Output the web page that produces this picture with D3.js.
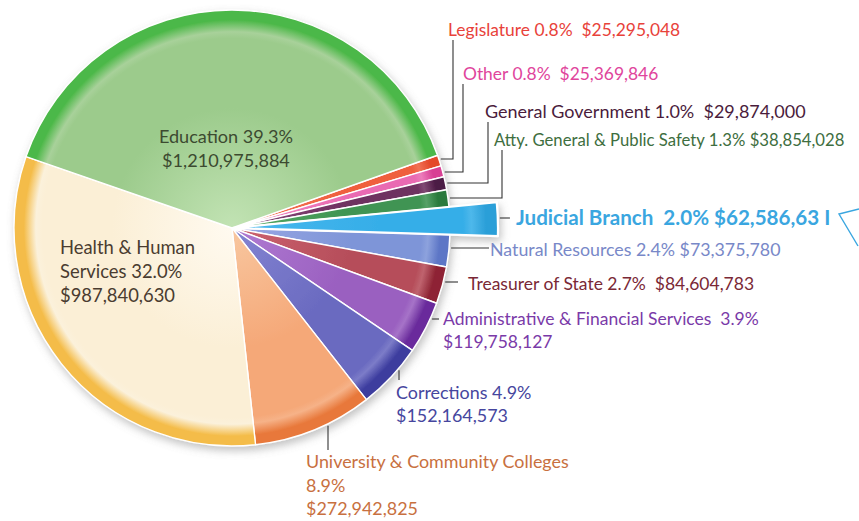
<!DOCTYPE html>
<html>
<head>
<meta charset="utf-8">
<script src="https://cdn.jsdelivr.net/npm/d3@7"></script>
<style>
  html, body { margin: 0; padding: 0; background: #ffffff; }
  svg { display: block; }
  text { font-family: Lato, "Open Sans", sans-serif; }
</style>
</head>
<body>
<svg id="chart" width="859" height="521"></svg>
<script>
// ---------- data ----------
const categories = [
  "Legislature", "Other", "General Government", "Atty. General & Public Safety",
  "Judicial Branch", "Natural Resources", "Treasurer of State",
  "Administrative & Financial Services", "Corrections",
  "University & Community Colleges", "Health & Human Services", "Education"
];
const percents = ["0.8%", "0.8%", "1.0%", "1.3%", "2.0%", "2.4%", "2.7%", "3.9%", "4.9%", "8.9%", "32.0%", "39.3%"];
const amounts = [25295048, 25369846, 29874000, 38854028, 62586631, 73375780, 84604783,
                 119758127, 152164573, 272942825, 987840630, 1210975884];
const amountLabels = ["$25,295,048", "$25,369,846", "$29,874,000", "$38,854,028", "$62,586,63 I",
                      "$73,375,780", "$84,604,783", "$119,758,127", "$152,164,573",
                      "$272,942,825", "$987,840,630", "$1,210,975,884"];

// ---------- styles ----------
const sliceColors = [ // [inner, mid, rim]
  ["#f47a5a", "#ef5f3e", "#e4482a"],
  ["#f08cc4", "#e96ab2", "#d83f94"],
  ["#8a4a7c", "#6e3060", "#4c1a44"],
  ["#55a865", "#3f9452", "#2a7a3c"],
  ["#49b8ee", "#36aee8", "#2b9fd8"],
  ["#9aa8e4", "#7e95d8", "#5d76c6"],
  ["#cc6270", "#b64e5a", "#8e2434"],
  ["#b07ad2", "#9a60c0", "#6a2c9c"],
  ["#8484d2", "#6a6ac0", "#3c3c9e"],
  ["#f8c7a0", "#f5a878", "#e8783a"],
  ["#fffaf0", "#fbefd6", "#f4bc48"],
  ["#c2e3b4", "#9ccb8c", "#4cb848"]
];
const labelColors = ["#e8423a", "#e0459c", "#4a1c3c", "#3e6e40", "#3aa6e0", "#7888c8",
                     "#7a2836", "#7a3aa8", "#46469e", "#c87040", "#4a3c30", "#3c4a30"];

const cx = 232, cy = 228, R = 218, Rjud = 266;
const startDeg = 70.5;

const svg = d3.select("#chart");
const defs = svg.append("defs");

const shadow = defs.append("filter").attr("id", "shadow")
  .attr("x", "-20%").attr("y", "-20%").attr("width", "140%").attr("height", "140%");
shadow.append("feDropShadow").attr("dx", 2).attr("dy", 4).attr("stdDeviation", 4)
  .attr("flood-color", "#777").attr("flood-opacity", 0.45);

const pie = d3.pie().sort(null).value(d => d)
  .startAngle(startDeg * Math.PI / 180)
  .endAngle(startDeg * Math.PI / 180 + 2 * Math.PI);
const arcsData = pie(amounts);

arcsData.forEach((d, i) => {
  const rr = i === 4 ? Rjud : R;
  const g = defs.append("radialGradient").attr("id", "grad" + i)
    .attr("gradientUnits", "userSpaceOnUse")
    .attr("cx", 0).attr("cy", 0).attr("r", rr);
  const c = sliceColors[i];
  g.append("stop").attr("offset", "0%").attr("stop-color", c[0]);
  g.append("stop").attr("offset", "55%").attr("stop-color", c[1]);
  g.append("stop").attr("offset", "87%").attr("stop-color", c[1]);
  g.append("stop").attr("offset", "90%").attr("stop-color", d3.interpolateRgb(c[1], "#ffffff")(0.12));
  g.append("stop").attr("offset", "95.5%").attr("stop-color", c[2]);
  g.append("stop").attr("offset", "100%").attr("stop-color", c[2]);
});

const arcGen = d3.arc().innerRadius(0);
const pieG = svg.append("g").attr("transform", `translate(${cx},${cy})`).attr("filter", "url(#shadow)");

const order = d3.range(arcsData.length).filter(i => i !== 4).concat([4]);
order.forEach(i => {
  const d = arcsData[i];
  pieG.append("path")
    .attr("d", arcGen.outerRadius(i === 4 ? Rjud : R)(d))
    .attr("fill", `url(#grad${i})`)
    .attr("stroke", "#ffffff")
    .attr("stroke-width", i === 4 ? 2.2 : 1.4)
    .attr("stroke-linejoin", "round");
});

// ---------- labels ----------
const lineColor = "#333";
function edgeXAtY(y) { return cx + Math.sqrt(R * R - (y - cy) * (y - cy)); }
function edgeYAtX(x) { return cy + Math.sqrt(R * R - (x - cx) * (x - cx)); }
function line(pts) {
  svg.append("path").attr("d", d3.line()(pts)).attr("fill", "none")
    .attr("stroke", lineColor).attr("stroke-width", 1.1);
}
function label(i, x, y, lines, opts = {}) {
  const t = svg.append("text").attr("x", x).attr("y", y)
    .attr("fill", labelColors[i])
    .attr("font-size", opts.size || 17.6)
    .attr("font-weight", opts.weight || 400)
    .attr("text-anchor", opts.anchor || "start")
    .attr("xml:space", "preserve");
  lines.forEach((s, k) => {
    t.append("tspan").attr("x", x).attr("dy", k === 0 ? 0 : (opts.lh || 23)).text(s);
  });
}

// Elbow leaders (top-right small slices)
const elbows = [ // [slice index, horizontal y, vertical x, top y, label x, label y, size, sep]
  [0, 159, 453, 40, 448, 36, 17.4, "  "],
  [1, 172, 463, 84, 463, 80, 17.4, "  "],
  [2, 183, 488, 122, 485, 118, 18, "  "],
  [3, 198, 502, 150, 494, 146, 16.7, " "]
];
elbows.forEach(([i, hy, vx, ty, lx, ly, sz, sep]) => {
  line([[edgeXAtY(hy) + 2, hy], [vx, hy], [vx, ty]]);
  label(i, lx, ly, [`${categories[i]} ${percents[i]}${sep}${amountLabels[i]}`], { size: sz });
});

// Judicial (exploded)
const jy = 218;
line([[cx + Math.sqrt(Rjud * Rjud - (jy - cy) * (jy - cy)) + 2, jy], [510, jy]]);
label(4, 516, 225, [`${categories[4]}  ${percents[4]} ${amountLabels[4]}`], { size: 20.6, weight: 700 });
svg.append("path").attr("d", d3.line()([[859, 209], [839, 214], [858, 246]]))
  .attr("fill", "none").attr("stroke", "#3aa6e0").attr("stroke-width", 1.4);

// Natural Resources
line([[edgeXAtY(248) + 2, 248], [489, 248]]);
label(5, 490, 256, [`${categories[5]} ${percents[5]} ${amountLabels[5]}`], { size: 17.8 });

// Treasurer
line([[edgeXAtY(282) + 2, 282], [458, 282]]);
label(6, 468, 290, [`${categories[6]} ${percents[6]}  ${amountLabels[6]}`], { size: 17.5 });

// Administrative
line([[edgeXAtY(319) + 2, 319], [439, 319]]);
label(7, 443, 325, [`${categories[7]}  ${percents[7]}`, amountLabels[7]], { size: 17.5 });

// Corrections
line([[399, edgeYAtX(399) + 2], [399, 380]]);
label(8, 396, 399, [`${categories[8]} ${percents[8]}`, amountLabels[8]], { size: 17.9 });

// University
line([[328, edgeYAtX(328) + 2], [328, 450]]);
label(9, 306, 468, [categories[9], percents[9], amountLabels[9]], { size: 17.9, lh: 23.5 });

// Health & Human Services (inside)
label(10, 60, 254, ["Health & Human", `Services ${percents[10]}`, amountLabels[10]], { size: 18.4, lh: 24 });

// Education (inside)
label(11, 226, 143, [`${categories[11]} ${percents[11]}`, amountLabels[11]], { size: 18.1, anchor: "middle", lh: 24 });
</script>
</body>
</html>
